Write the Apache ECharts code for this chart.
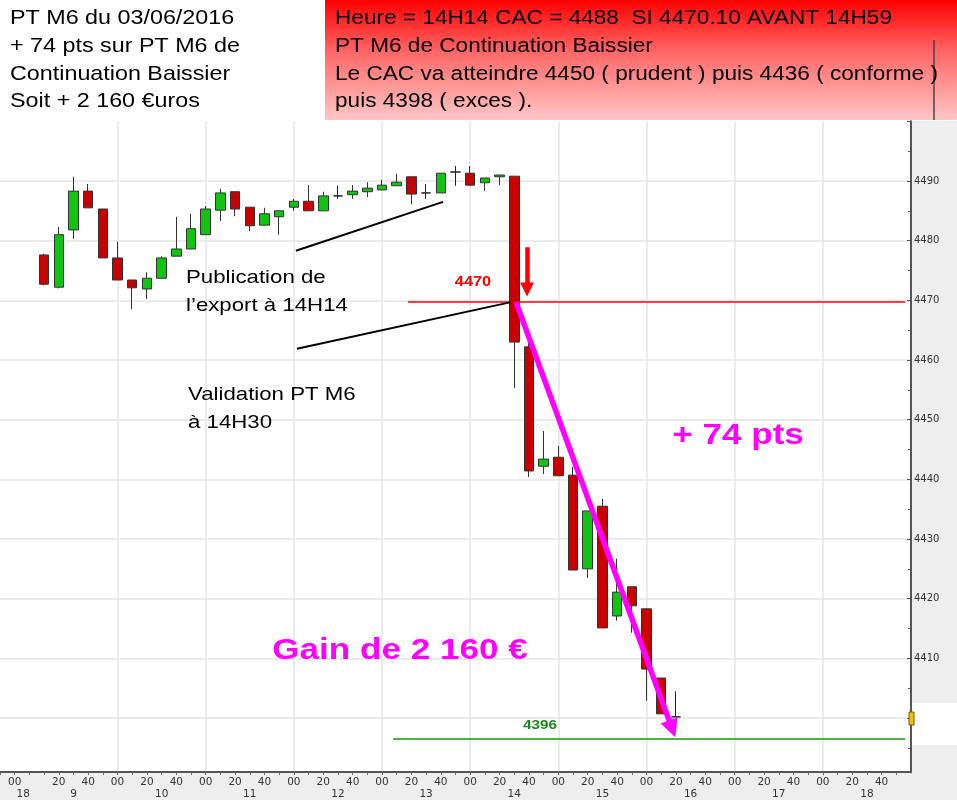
<!DOCTYPE html>
<html><head><meta charset="utf-8">
<script src="https://cdn.jsdelivr.net/npm/echarts@6/dist/echarts.min.js"></script>
<style>html,body{margin:0;padding:0;background:#fff}#c{width:957px;height:800px}</style>
</head><body><div id="c"></div>
<script>
// ---- categories: 10-minute slots (two slots of previous day, then 09:00 .. 19:00)
const slotTimes = ['J-1 17:50','J-1 18:00',
 '09:00','09:10','09:20','09:30','09:40','09:50',
 '10:00','10:10','10:20','10:30','10:40','10:50',
 '11:00','11:10','11:20','11:30','11:40','11:50',
 '12:00','12:10','12:20','12:30','12:40','12:50',
 '13:00','13:10','13:20','13:30','13:40','13:50',
 '14:00','14:10','14:20','14:30','14:40','14:50',
 '15:00','15:10','15:20','15:30','15:40','15:50',
 '16:00','16:10','16:20','16:30','16:40','16:50',
 '17:00','17:10','17:20','17:30','17:40','17:50',
 '18:00','18:10','18:20','18:30','18:40','18:50',
 '19:00'];
const minuteLabels = ['00','20','40'];

// ---- candles (10 min)
const candleTimes = ['09:10','09:20','09:30','09:40','09:50',
 '10:00','10:10','10:20','10:30','10:40','10:50',
 '11:00','11:10','11:20','11:30','11:40','11:50',
 '12:00','12:10','12:20','12:30','12:40','12:50',
 '13:00','13:10','13:20','13:30','13:40','13:50',
 '14:00','14:10','14:20','14:30','14:40','14:50',
 '15:00','15:10','15:20','15:30','15:40','15:50',
 '16:00','16:10','16:20'];
const opens  = [4477.6,4472.2,4481.8,4488.3,4485.3,4477.1,4473.4,4471.9,4473.7,4477.4,4478.6,4481.0,4485.1,4488.2,4485.6,4482.6,4484.0,4485.6,4486.6,4485.0,4487.5,4487.7,4488.2,4488.5,4489.2,4490.7,4488.0,4488.0,4491.5,4491.3,4489.7,4490.7,4490.8,4462.2,4442.2,4443.7,4440.7,4425.0,4435.5,4417.1,4422.0,4418.3,4406.7,4400.2];
const closes = [4472.7,4481.0,4488.3,4485.5,4477.1,4473.4,4472.1,4473.7,4477.1,4478.6,4482.0,4485.3,4488.0,4485.3,4482.5,4484.5,4485.0,4486.6,4485.0,4487.5,4487.5,4488.3,4488.8,4489.3,4489.8,4487.8,4488.0,4491.3,4491.5,4489.3,4490.5,4491.0,4463.0,4441.4,4443.4,4440.6,4424.8,4434.7,4415.1,4421.1,4418.8,4408.2,4400.7,4400.2];
const lows   = [4472.5,4472.0,4480.3,4485.5,4477.1,4473.4,4468.5,4470.2,4473.7,4477.4,4478.6,4481.0,4483.3,4484.1,4481.6,4482.6,4481.0,4485.0,4485.0,4485.0,4487.0,4487.0,4487.3,4488.5,4489.2,4486.1,4487.0,4488.0,4489.2,4489.3,4488.3,4489.3,4455.3,4440.4,4440.9,4440.6,4424.8,4423.5,4415.1,4416.3,4414.3,4402.9,4400.7,4400.2];
const highs  = [4477.8,4482.3,4490.7,4489.5,4485.3,4479.8,4473.4,4474.7,4477.4,4484.0,4484.5,4485.8,4488.7,4488.2,4485.6,4485.5,4485.0,4487.0,4489.3,4488.2,4489.2,4489.3,4489.8,4490.2,4491.2,4490.7,4489.5,4491.3,4492.5,4492.5,4490.5,4491.0,4490.8,4463.5,4448.1,4445.6,4442.1,4434.7,4436.7,4426.7,4422.0,4418.3,4406.7,4404.5];

// ---- price levels and annotation segments (x in slot index units, y in price)
const levelEntry = 4469.7;   // red line "4470"
const levelTarget = 4396.5;  // green line "4396"
const entryLineX = [27.77, 61.6];
const targetLineX = [26.75, 61.6];
const publicationLine = [[20.14, 4478.3], [30.15, 4486.5]];
const validationLine = [[20.21, 4461.9], [34.78, 4469.7]];
const gainArrow = [[35.12, 4469.7], [45.75, 4398.2]];
const entryArrow = [[35.87, 4478.9], [35.87, 4471.8]];

const candleData = candleTimes.map((t, i) => [slotTimes.indexOf(t), opens[i], closes[i], lows[i], highs[i]]);

const FONT = '"Liberation Sans", Arial, sans-serif';
function txt(x, y, s, font, fill, align, sx) {
  return {type:'text', x:x, y:y, scaleX:sx || 1.17, z:100,
    style:{text:s, font:font, fill:fill, align:align||'left', textAlign:align||'left',
           verticalAlign:'middle', textVerticalAlign:'middle'}};
}

const chart = echarts.init(document.getElementById('c'), null, {renderer:'canvas'});
const lastIdx = slotTimes.length - 1;
const splitColors = ['rgba(0,0,0,0)','#e4e4e4','#e4e4e4','#e4e4e4','#e4e4e4','#e4e4e4','#e4e4e4','#e4e4e4','#e4e4e4','#e4e4e4','#e4e4e4','rgba(0,0,0,0)'];

chart.setOption({
  animation:false,
  grid:{left:0, right:46, top:121.3, bottom:22.3},
  xAxis:[
    {type:'category', data:slotTimes, boundaryGap:false, position:'bottom', offset:-5.7,
     axisLine:{show:true, onZero:false, lineStyle:{color:'#555', width:2}},
     axisTick:{show:true, interval:0, length:3, lineStyle:{color:'#666'}},
     axisLabel:{interval:(i, v) => i === 1 || (i > 2 && i < lastIdx && minuteLabels.includes(v.slice(-2))),
       formatter:v => v.slice(-2), color:'#333', fontFamily:'DejaVu Sans', fontSize:10.5, margin:5},
     splitLine:{show:true, interval:(i, v) => i >= 8 && i < lastIdx && v.slice(-2) === '00',
       lineStyle:{color:'#e4e4e4', width:1.5}}},
    {type:'value', min:0, max:lastIdx, show:false, position:'bottom', axisLine:{onZero:false}},
    {type:'category', data:slotTimes, boundaryGap:false, position:'bottom', offset:6.3,
     axisLine:{show:false, onZero:false}, axisTick:{show:false}, splitLine:{show:false},
     axisLabel:{interval:(i, v) => i === 1 || (i > 2 && i < lastIdx && v.slice(-2) === '30'),
       formatter:v => v.startsWith('J-1') ? '{s|18}' : String(parseInt(v.slice(0, 2), 10)),
       rich:{s:{padding:[0,0,0,17], color:'#333', fontFamily:'DejaVu Sans', fontSize:10.5}},
       color:'#333', fontFamily:'DejaVu Sans', fontSize:10.5, margin:5}}
  ],
  yAxis:{type:'value', position:'right', min:4390, max:4500, interval:10,
    axisLine:{show:true, onZero:false, lineStyle:{color:'#555', width:2}},
    axisTick:{show:true, inside:true, length:4, lineStyle:{color:'#555'}},
    minorTick:{show:true, splitNumber:2, length:3, lineStyle:{color:'#555'}},
    axisLabel:{formatter:v => (v >= 4410 && v <= 4490) ? String(v) : '', color:'#333',
      fontFamily:'DejaVu Sans', fontSize:10, margin:3},
    splitLine:{show:true, lineStyle:{color:splitColors, width:1.5}}},
  series:[
    {type:'candlestick', xAxisIndex:0, yAxisIndex:0, data:candleData,
     encode:{x:0, y:[1,2,3,4]}, barWidth:10, z:3,
     itemStyle:{color:'#12c412', color0:'#c80000', borderColor:'#333', borderColor0:'#333',
       borderColorDoji:'#222', borderWidth:1}},
    {type:'lines', coordinateSystem:'cartesian2d', xAxisIndex:1, yAxisIndex:0, silent:true, z:5,
     symbol:'none', lineStyle:{opacity:1, curveness:0},
     data:[
       {coords:[[entryLineX[0], levelEntry],[entryLineX[1], levelEntry]], lineStyle:{color:'#ff0000', width:1.6}},
       {coords:[[targetLineX[0], levelTarget],[targetLineX[1], levelTarget]], lineStyle:{color:'#109a10', width:1.6}},
       {coords:publicationLine, lineStyle:{color:'#000', width:2}},
       {coords:validationLine, lineStyle:{color:'#000', width:2}}
     ]},
    {type:'lines', coordinateSystem:'cartesian2d', xAxisIndex:1, yAxisIndex:0, silent:true, z:6,
     symbol:['none','triangle'], symbolSize:[1,18], lineStyle:{opacity:1, curveness:0},
     data:[{coords:gainArrow, lineStyle:{color:'#ff00ff', width:5.5}}]},
    {type:'lines', coordinateSystem:'cartesian2d', xAxisIndex:1, yAxisIndex:0, silent:true, z:6,
     symbol:['none','triangle'], symbolSize:[1,14], lineStyle:{opacity:1, curveness:0},
     data:[{coords:entryArrow, lineStyle:{color:'#ff0000', width:4.5}}]}
  ],
  graphic:[
    // backgrounds
    {type:'rect', shape:{x:912, y:121, width:45, height:582}, style:{fill:'#eeeeee'}, z:-10},
    {type:'rect', shape:{x:912, y:745, width:45, height:55}, style:{fill:'#eeeeee'}, z:-10},
    {type:'rect', shape:{x:0, y:773, width:912, height:27}, style:{fill:'#eeeeee'}, z:-10},
    {type:'rect', shape:{x:906, y:773.2, width:8, height:7}, style:{fill:'#eeeeee'}, z:50},
    {type:'rect', shape:{x:909, y:712, width:5, height:13}, style:{fill:'#f0c000', stroke:'#7a5a00', lineWidth:1}, z:60},
    // header box
    {type:'rect', shape:{x:325, y:0, width:632, height:120}, z:90,
     style:{fill:{type:'linear', x:0, y:0, x2:0, y2:1,
       colorStops:[{offset:0, color:'#ff0000'},{offset:0.45, color:'#ff6a6a'},{offset:1, color:'#ffc6c6'}]}}},
    {type:'line', shape:{x1:934, y1:40, x2:934, y2:120}, style:{stroke:'#444', lineWidth:1.5}, z:95},
    txt(10, 18, 'PT M6 du 03/06/2016', '21px ' + FONT, '#000', 'left', 1.11),
    txt(10, 46, '+ 74 pts sur PT M6 de', '21px ' + FONT, '#000', 'left', 1.11),
    txt(10, 74, 'Continuation Baissier', '21px ' + FONT, '#000', 'left', 1.11),
    txt(10, 101, 'Soit + 2 160 €uros', '21px ' + FONT, '#000', 'left', 1.11),
    txt(335, 18, 'Heure = 14H14 CAC = 4488  SI 4470.10 AVANT 14H59', '20px ' + FONT, '#000', 'left', 1.13),
    txt(335, 46, 'PT M6 de Continuation Baissier', '20px ' + FONT, '#000', 'left', 1.13),
    txt(335, 74, 'Le CAC va atteindre 4450 ( prudent ) puis 4436 ( conforme )', '20px ' + FONT, '#000', 'left', 1.13),
    txt(335, 101, 'puis 4398 ( exces ).', '20px ' + FONT, '#000', 'left', 1.13),
    // chart annotations
    txt(186, 278, 'Publication de', '19px ' + FONT, '#000'),
    txt(186, 306, 'l\u2019export à 14H14', '19px ' + FONT, '#000'),
    txt(188, 395, 'Validation PT M6', '19px ' + FONT, '#000'),
    txt(188, 423, 'à 14H30', '19px ' + FONT, '#000'),
    txt(473, 282, '4470', 'bold 14px ' + FONT, '#ff0000', 'center'),
    txt(540, 725, '4396', 'bold 13px ' + FONT, '#1a8a1a', 'center'),
    txt(738, 436, '+ 74 pts', 'bold 30px ' + FONT, '#ff00ff', 'center'),
    txt(400, 651, 'Gain de 2 160 €', 'bold 30px ' + FONT, '#ff00ff', 'center')
  ]
});
</script></body></html>
